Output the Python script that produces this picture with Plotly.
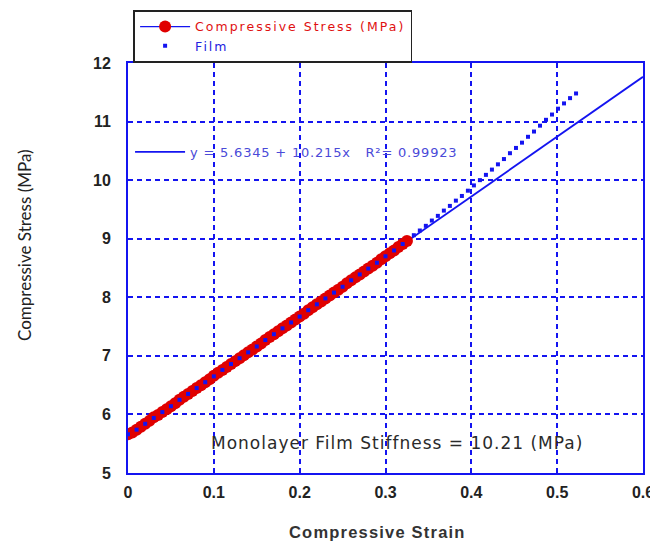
import plotly.graph_objects as go

# Compressive stress data (strain, MPa)
stress_strain = [0.000, 0.005, 0.010, 0.015, 0.020, 0.025, 0.030, 0.035, 0.040, 0.045,
                 0.050, 0.055, 0.060, 0.065, 0.070, 0.075, 0.080, 0.085, 0.090, 0.095,
                 0.100, 0.105, 0.110, 0.115, 0.120, 0.125, 0.130, 0.135, 0.140, 0.145,
                 0.150, 0.155, 0.160, 0.165, 0.170, 0.175, 0.180, 0.185, 0.190, 0.195,
                 0.200, 0.205, 0.210, 0.215, 0.220, 0.225, 0.230, 0.235, 0.240, 0.245,
                 0.250, 0.255, 0.260, 0.265, 0.270, 0.275, 0.280, 0.285, 0.290, 0.295,
                 0.300, 0.305, 0.310, 0.315, 0.320, 0.325]
stress_values = [5.66, 5.69, 5.74, 5.79, 5.84, 5.89, 5.95, 5.99, 6.04, 6.09,
                 6.14, 6.19, 6.25, 6.30, 6.35, 6.40, 6.45, 6.50, 6.55, 6.60,
                 6.66, 6.71, 6.76, 6.81, 6.86, 6.91, 6.96, 7.01, 7.06, 7.11,
                 7.16, 7.21, 7.27, 7.32, 7.37, 7.42, 7.47, 7.52, 7.57, 7.62,
                 7.67, 7.72, 7.78, 7.83, 7.88, 7.93, 7.98, 8.03, 8.08, 8.13,
                 8.18, 8.24, 8.29, 8.34, 8.39, 8.44, 8.49, 8.54, 8.59, 8.65,
                 8.70, 8.75, 8.80, 8.86, 8.91, 8.96]

# Film data
film_strain = [0.000, 0.010, 0.020, 0.030, 0.040, 0.050, 0.060, 0.070, 0.080, 0.090,
               0.100, 0.110, 0.120, 0.130, 0.140, 0.150, 0.160, 0.170, 0.180, 0.190,
               0.200, 0.210, 0.220, 0.230, 0.240, 0.250, 0.260, 0.270, 0.280, 0.290,
               0.300, 0.310, 0.320, 0.333, 0.340, 0.347, 0.354, 0.361, 0.368, 0.375,
               0.382, 0.389, 0.396, 0.403, 0.410, 0.417, 0.424, 0.431, 0.438, 0.445,
               0.452, 0.459, 0.466, 0.473, 0.480, 0.487, 0.494, 0.501, 0.508, 0.515,
               0.522]
film_values = [5.66, 5.74, 5.84, 5.94, 6.04, 6.14, 6.25, 6.35, 6.45, 6.55,
               6.65, 6.76, 6.86, 6.96, 7.06, 7.16, 7.27, 7.37, 7.47, 7.57,
               7.67, 7.78, 7.88, 7.98, 8.08, 8.18, 8.29, 8.39, 8.49, 8.59,
               8.70, 8.80, 8.91, 9.06, 9.14, 9.22, 9.31, 9.39, 9.48, 9.56,
               9.65, 9.73, 9.82, 9.91, 10.00, 10.09, 10.18, 10.27, 10.36, 10.46,
               10.55, 10.64, 10.74, 10.83, 10.93, 11.03, 11.12, 11.22, 11.31, 11.40,
               11.48]

# Linear fit parameters
fit_intercept = 5.6345
fit_slope = 10.215
fit_r = 0.99923
fit_x = [0.0, 0.6]
fit_y = [fit_intercept + fit_slope * v for v in fit_x]

x_ticks = [0, 0.1, 0.2, 0.3, 0.4, 0.5, 0.6]
x_tick_labels = ["0", "0.1", "0.2", "0.3", "0.4", "0.5", "0.6"]
y_ticks = [5, 6, 7, 8, 9, 10, 11, 12]

BLUE = "#1414f0"
RED = "#e00000"

fig = go.Figure()

fig.add_trace(go.Scatter(
    x=fit_x, y=fit_y, mode="lines",
    line=dict(color=BLUE, width=1.8),
    name='<span style="letter-spacing:0.8px">y = 5.6345 + 10.215x   R²= 0.99923</span>',
    legend="legend2",
))

fig.add_trace(go.Scatter(
    x=stress_strain, y=stress_values, mode="lines+markers",
    line=dict(color=BLUE, width=1.2),
    marker=dict(color=RED, size=12, symbol="circle"),
    name='<span style="color:#e01010;letter-spacing:2px">Compressive Stress (MPa)</span>',
))

fig.add_trace(go.Scatter(
    x=film_strain, y=film_values, mode="markers",
    marker=dict(color=BLUE, size=4, symbol="square"),
    name='<span style="color:#2020e0;letter-spacing:2px">Film</span>',
))

fig.add_annotation(
    x=0.3135, y=5.517, xref="x", yref="y",
    text='<span style="letter-spacing:1px">Monolayer Film Stiffness = 10.21 (MPa)</span>',
    showarrow=False, xanchor="center", yanchor="middle",
    font=dict(family="DejaVu Sans", size=17, color="#2a2a2a"),
)

fig.add_annotation(
    x=-0.202, y=0.556, xref="paper", yref="paper",
    text="Compressive Stress (MPa)", textangle=-90, showarrow=False,
    xanchor="center", yanchor="middle",
    font=dict(family="Lato, Noto Sans", size=17, color="#222222"),
)
fig.add_annotation(
    x=0.485, y=-0.144, xref="paper", yref="paper",
    text='<b><span style="letter-spacing:1.2px">Compressive Strain</span></b>',
    showarrow=False, xanchor="center", yanchor="middle",
    font=dict(family="Liberation Sans, Arial", size=16.5, color="#333333"),
)

axis_common = dict(
    showline=True, linecolor=BLUE, linewidth=2, mirror=True,
    showgrid=True, gridcolor=BLUE, griddash="5px,4px", gridwidth=1.5,
    zeroline=False, ticks="", automargin=False,
    tickfont=dict(family="Liberation Sans, Arial", size=16, color="#222222",
                  weight="bold"),
)

fig.update_xaxes(
    range=[0, 0.6], tickvals=x_ticks, ticktext=x_tick_labels,
    ticklabelstandoff=4,
    **axis_common,
)
fig.update_yaxes(
    range=[5, 12], tickvals=y_ticks,
    ticklabelstandoff=12,
    **axis_common,
)

fig.update_layout(
    width=650, height=535,
    margin=dict(l=120, r=15, t=55, b=70, autoexpand=False),
    paper_bgcolor="white", plot_bgcolor="white",
    showlegend=True,
    legend=dict(
        x=0.0103, y=1.129, xanchor="left", yanchor="top",
        bordercolor="#222222", borderwidth=1.8, bgcolor="white",
        font=dict(family="DejaVu Sans", size=12.5),
        tracegroupgap=0, itemwidth=50,
    ),
    legend2=dict(
        x=0.004, y=0.783, xanchor="left", yanchor="middle",
        bgcolor="rgba(0,0,0,0)", borderwidth=0,
        font=dict(family="DejaVu Sans", size=13, color="#4a4ad8"),
        itemwidth=50,
    ),
)

fig.write_html("out.html")
